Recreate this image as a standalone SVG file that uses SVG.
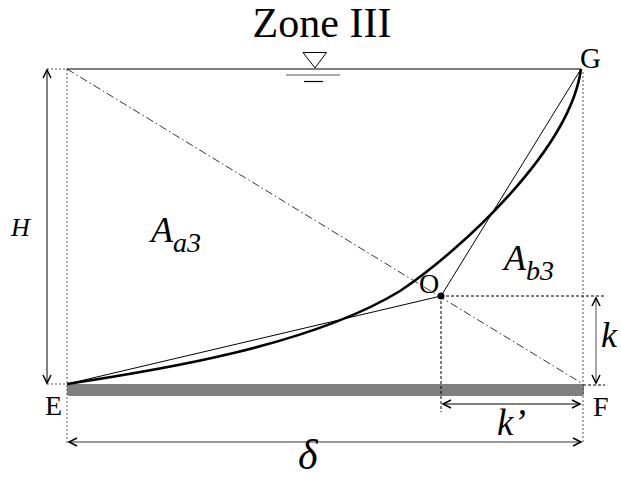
<svg xmlns="http://www.w3.org/2000/svg" width="621" height="479" viewBox="0 0 621 479">
<style>
.t{font-family:"Liberation Serif","Times New Roman",serif;fill:#000}
.i{font-style:italic}
.dot{stroke:#555;stroke-width:1;stroke-dasharray:2,2;fill:none}
.dsh{stroke:#000;stroke-width:1;stroke-dasharray:3,2;fill:none}
.thin{stroke:#000;stroke-width:1;fill:none}
</style>
<defs>
<marker id="ah" viewBox="-10 -6 12 12" refX="0" refY="0" markerWidth="12" markerHeight="12" markerUnits="userSpaceOnUse" orient="auto-start-reverse">
<path d="M-8,-4 L0,0 L-8,4" fill="none" stroke="#000" stroke-width="1.5"/>
</marker>
</defs>
<rect width="621" height="479" fill="#fff"/>
<g id="title"><text class="t" x="322" y="37" font-size="42" text-anchor="middle">Zone III</text></g>
<g id="water-surface">
<line x1="67" y1="69" x2="581" y2="69" stroke="#000" stroke-width="1.2"/>
<path d="M303,52.5 L326.5,52.5 L315,68 Z" fill="none" stroke="#000" stroke-width="1"/>
<line x1="286" y1="75" x2="340" y2="75" stroke="#555" stroke-width="1.2"/>
<line x1="304" y1="81.5" x2="323" y2="81.5" stroke="#000" stroke-width="1.2"/>
</g>
<g id="base"><rect x="67" y="384" width="517" height="12" rx="2" fill="#808080"/></g>
<g id="connectors">
<line class="dot" x1="47" y1="69" x2="67" y2="69"/>
<line class="dot" x1="47" y1="384" x2="67" y2="384"/>
<line class="dot" x1="67" y1="69" x2="67" y2="443"/>
<line class="dot" x1="583" y1="72" x2="583" y2="442"/>
<line class="dsh" x1="441" y1="296" x2="605" y2="296"/>
<line class="dsh" x1="441" y1="296" x2="441" y2="412"/>
<line class="dsh" x1="583" y1="385" x2="605" y2="385"/>
<line x1="67" y1="69" x2="583" y2="384" stroke="#000" stroke-width="0.8" stroke-dasharray="8,3,1.5,3"/>
<line class="thin" x1="67" y1="384" x2="441" y2="296"/>
<line class="thin" x1="441" y1="296" x2="581" y2="69"/>
<path d="M67,384 C157,370.5 310,346 400,291 C460,251 570,150 581,69" fill="none" stroke="#000" stroke-width="2.6"/>
<line x1="47" y1="70" x2="47" y2="383" stroke="#000" stroke-width="1" marker-start="url(#ah)" marker-end="url(#ah)"/>
<line x1="596" y1="298" x2="596" y2="383" stroke="#888" stroke-width="1.5" marker-start="url(#ah)" marker-end="url(#ah)"/>
<line x1="443" y1="404" x2="580" y2="404" stroke="#000" stroke-width="1" marker-start="url(#ah)" marker-end="url(#ah)"/>
<line x1="69" y1="442" x2="581" y2="442" stroke="#999" stroke-width="2" marker-start="url(#ah)" marker-end="url(#ah)"/>
</g>
<g id="node-O"><circle cx="441" cy="296" r="3.5" fill="#000"/><text class="t" x="419" y="293" font-size="28">O</text></g>
<g id="node-E"><text class="t" x="45" y="415" font-size="28">E</text></g>
<g id="node-F"><text class="t" x="593" y="416" font-size="28">F</text></g>
<g id="node-G"><text class="t" x="580" y="68" font-size="29">G</text></g>
<g id="label-H"><text class="t i" x="11" y="236" font-size="26">H</text></g>
<g id="label-Aa3"><text class="t i" x="151" y="242" font-size="36">A<tspan font-size="28" dy="10">a3</tspan></text></g>
<g id="label-Ab3"><text class="t i" x="504" y="270" font-size="36">A<tspan font-size="28" dy="10">b3</tspan></text></g>
<g id="label-k"><text class="t i" x="601" y="347" font-size="36">k</text></g>
<g id="label-k2"><text class="t i" x="497" y="435" font-size="37">k’</text></g>
<g id="label-delta"><text class="t i" x="298" y="469" font-size="42">δ</text></g>
</svg>
